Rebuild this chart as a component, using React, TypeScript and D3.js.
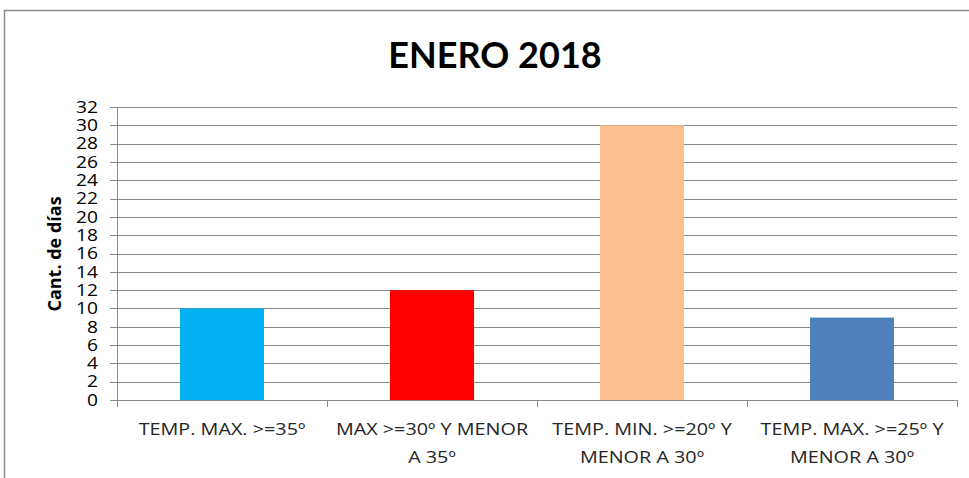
import React, { useEffect, useRef } from "react";
import * as d3 from "d3";

const categories = [
  ["TEMP. MAX. >=35º"],
  ["MAX >=30º Y MENOR", "A 35º"],
  ["TEMP. MIN. >=20º Y", "MENOR A 30º"],
  ["TEMP. MAX. >=25º Y", "MENOR A 30º"],
];
const values = [10, 12, 30, 9];
const colors = ["#00B0F0", "#FF0000", "#FAC090", "#4F81BD"];
const yTicks = d3.range(0, 33, 2);

export default function App() {
  const ref = useRef<SVGSVGElement | null>(null);

  useEffect(() => {
    const width = 969;
    const height = 478;
    const left = 117;
    const right = 957;
    const top = 107;
    const bottom = 400;
    const font = "'Open Sans', sans-serif";
    const stretch = 1.2; // reference text is horizontally stretched

    const svg = d3.select(ref.current);
    svg.selectAll("*").remove();
    svg.attr("width", width).attr("height", height);

    svg.append("rect").attr("width", width).attr("height", height).attr("fill", "#fff");

    // outer chart frame
    svg.append("rect")
      .attr("x", 4.5).attr("y", 10.5)
      .attr("width", width + 10).attr("height", height + 10)
      .attr("fill", "none").attr("stroke", "#8c8c8c").attr("stroke-width", 1.5);

    const x = d3.scaleBand<number>()
      .domain(d3.range(values.length))
      .range([left, right])
      .paddingInner(0.6)
      .paddingOuter(0.3);

    const y = d3.scaleLinear().domain([0, 32]).range([bottom, top]);

    // gridlines
    svg.append("g").selectAll("line").data(yTicks).join("line")
      .attr("x1", left - 7).attr("x2", right)
      .attr("y1", d => Math.round(y(d)) + 0.5).attr("y2", d => Math.round(y(d)) + 0.5)
      .attr("stroke", "#8a8a8a").attr("stroke-width", 1);

    // y tick labels
    svg.append("g").selectAll("text").data(yTicks).join("text")
      .attr("transform", d => `translate(98,${y(d)}) scale(${stretch},1)`)
      .attr("dy", "0.36em")
      .attr("text-anchor", "end")
      .attr("font-family", font).attr("font-size", 16).attr("fill", "#000")
      .text(d => d);

    // bars
    svg.append("g").selectAll("rect").data(values).join("rect")
      .attr("x", (d, i) => x(i)!)
      .attr("width", x.bandwidth())
      .attr("y", d => y(d))
      .attr("height", d => y(0) - y(d))
      .attr("fill", (d, i) => colors[i]);

    // axes lines
    svg.append("line")
      .attr("x1", left + 0.5).attr("x2", left + 0.5).attr("y1", top).attr("y2", bottom)
      .attr("stroke", "#8a8a8a");
    svg.append("line")
      .attr("x1", left).attr("x2", right).attr("y1", bottom + 0.5).attr("y2", bottom + 0.5)
      .attr("stroke", "#8a8a8a");

    const step = (right - left) / values.length;
    svg.append("g").selectAll("line").data(d3.range(values.length + 1)).join("line")
      .attr("x1", d => Math.round(left + d * step) + 0.5)
      .attr("x2", d => Math.round(left + d * step) + 0.5)
      .attr("y1", bottom).attr("y2", bottom + 7)
      .attr("stroke", "#8a8a8a");

    // x labels
    const lbl = svg.append("g").selectAll("text").data(categories).join("text")
      .attr("transform", (d, i) => `translate(${x(i)! + x.bandwidth() / 2},0) scale(${stretch},1)`)
      .attr("text-anchor", "middle")
      .attr("font-family", font).attr("font-size", 16.5).attr("fill", "#262626");
    lbl.each(function (lines) {
      d3.select(this).selectAll("tspan").data(lines).join("tspan")
        .attr("x", 0)
        .attr("y", (d, j) => 435 + j * 28)
        .text(d => d);
    });

    // y title
    svg.append("text")
      .attr("transform", "translate(61,254) rotate(-90)")
      .attr("text-anchor", "middle")
      .attr("font-family", font).attr("font-size", 18).attr("font-weight", "bold")
      .text("Cant. de días");

    // title
    svg.append("text")
      .attr("x", 495).attr("y", 68)
      .attr("text-anchor", "middle")
      .attr("font-family", "Lato, sans-serif").attr("font-size", 36).attr("font-weight", "bold")
      .text("ENERO 2018");
  }, []);

  return (
    <div style={{ position: "fixed", left: 0, top: 0 }}>
      <svg ref={ref} />
    </div>
  );
}
